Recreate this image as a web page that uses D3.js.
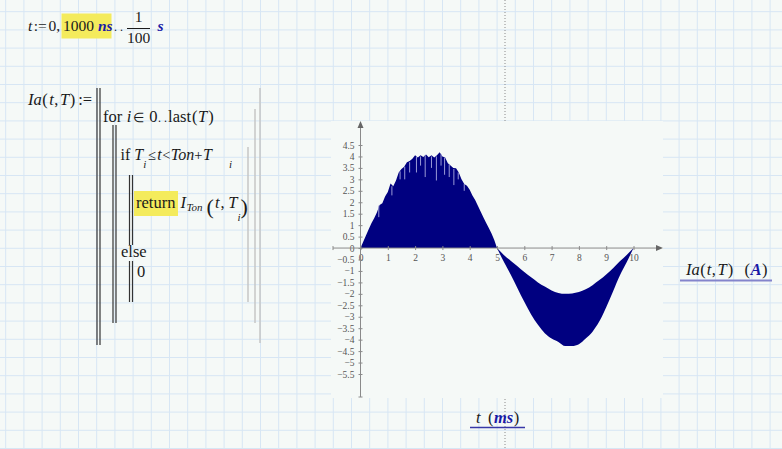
<!DOCTYPE html>
<html>
<head>
<meta charset="utf-8">
<script src="https://cdn.jsdelivr.net/npm/d3@7"></script>
<style>
  body { margin: 0; background: #f5f9f7; }
  svg { display: block; }
  text { font-family: "Liberation Serif", "Times New Roman", serif; }
</style>
</head>
<body>
<script>
// positive half (0..5 ms), top of the filled region in A
var posT = [0, 0.1, 0.2, 0.3, 0.4, 0.5, 0.6, 0.7, 0.8, 0.9, 1.0, 1.1, 1.2, 1.3, 1.4, 1.5, 1.6, 1.7, 1.8, 1.9,
            2.0, 2.1, 2.2, 2.3, 2.4, 2.5, 2.6, 2.7, 2.8, 2.9, 3.0, 3.1, 3.2, 3.3, 3.4, 3.5, 3.6, 3.7, 3.8, 3.9,
            4.0, 4.1, 4.2, 4.3, 4.4, 4.5, 4.6, 4.7, 4.8, 4.9, 5.0];
var posTop = [0, 0.27, 0.55, 0.82, 1.08, 1.3, 1.55, 1.88, 1.96, 2.25, 2.45, 2.82, 2.7, 2.95, 3.3, 3.45, 3.55, 3.75, 3.8, 3.9,
              4.05, 3.95, 4.05, 3.98, 4.08, 3.97, 4.05, 3.95, 4.05, 4.18, 4.0, 3.95, 3.7, 3.6, 3.5, 3.48, 3.3, 3.0, 2.8, 2.72,
              2.55, 2.3, 2.1, 1.85, 1.6, 1.35, 1.1, 0.88, 0.64, 0.35, 0];

// light streaks inside the positive half
var streakT      = [0.67, 1.15, 1.45, 1.62, 1.8, 2.05, 2.2, 2.37, 2.6, 2.78, 2.95, 3.08, 3.25, 3.42, 3.58, 3.8];
var streakTop    = [1.85, 2.7, 3.35, 3.55, 3.75, 4.0, 4.0, 4.05, 4.0, 4.0, 4.1, 3.95, 3.65, 3.45, 3.3, 2.8];
var streakBottom = [1.35, 2.3, 3.0, 3.0, 3.3, 3.3, 3.6, 3.1, 3.5, 2.95, 3.6, 3.2, 3.1, 2.75, 3.0, 2.5];

// negative half (5..10 ms), band between inner and outer envelope in A
var negT     = [5, 5.25, 5.5, 5.75, 6, 6.25, 6.5, 6.75, 7, 7.25, 7.5, 7.75, 8, 8.25, 8.5, 8.75, 9, 9.25, 9.5, 9.75, 10];
var negOuter = [0, -0.6, -1.15, -1.75, -2.35, -2.9, -3.35, -3.72, -3.95, -4.1, -4.28, -4.28, -4.2, -3.95, -3.65, -3.2, -2.58, -1.9, -1.2, -0.62, 0];
var negInner = [0, -0.3, -0.55, -0.8, -1.05, -1.28, -1.5, -1.68, -1.85, -1.96, -2.0, -1.98, -1.92, -1.8, -1.62, -1.4, -1.15, -0.88, -0.58, -0.3, 0];

var xTicks = [0, 1, 2, 3, 4, 5, 6, 7, 8, 9, 10];
var yTicks = [4.5, 4, 3.5, 3, 2.5, 2, 1.5, 1, 0.5, 0, -0.5, -1, -1.5, -2, -2.5, -3, -3.5, -4, -4.5, -5, -5.5];

var W = 782, H = 449;
var ink = "#1a1a1a", unitBlue = "#1a1aa6", hilite = "#f4eb5c";
var FS = 16.5;

var svg = d3.select("body").append("svg")
    .attr("width", W)
    .attr("height", H);

svg.append("rect").attr("width", W).attr("height", H).attr("fill", "#f5f9f7");

// worksheet grid
var grid = svg.append("g").attr("stroke", "#d7e6f4").attr("stroke-width", 1);
for (var gx = 5.7; gx < W; gx += 18.2) {
  grid.append("line").attr("x1", gx).attr("x2", gx).attr("y1", 0).attr("y2", H);
}
for (var gy = 11.7; gy < H; gy += 18.2) {
  grid.append("line").attr("x1", 0).attr("x2", W).attr("y1", gy).attr("y2", gy);
}

// page break marker
svg.append("line").attr("x1", 505).attr("x2", 505).attr("y1", 0).attr("y2", H)
    .attr("stroke", "#8a8a8a").attr("stroke-dasharray", "1,2");

// one text line made of styled pieces: [string, style, dx, dy, size]
function mline(x, y, parts, size, anchor) {
  var t = svg.append("text")
      .attr("x", x).attr("y", y)
      .style("font-size", (size || FS) + "px")
      .attr("fill", ink);
  if (anchor) t.attr("text-anchor", anchor);
  parts.forEach(function(p) {
    var s = t.append("tspan").text(p[0]);
    if (p[1] == "i") s.style("font-style", "italic");
    if (p[1] == "u") s.style("font-style", "italic").style("font-weight", "bold").attr("fill", unitBlue);
    if (p[2]) s.attr("dx", p[2]);
    if (p[3]) s.attr("dy", p[3]);
    if (p[4]) s.style("font-size", p[4] + "px");
  });
  return t;
}
function vbar(x, y1, y2, col, w) {
  svg.append("line").attr("x1", x).attr("x2", x).attr("y1", y1).attr("y2", y2)
      .attr("stroke", col).attr("stroke-width", w);
}

// t := 0, 1000 ns .. 1/100 s
svg.append("rect").attr("x", 61.5).attr("y", 13.5).attr("width", 50).attr("height", 25).attr("fill", hilite);
mline(28, 31, [["t", "i"], [":=", "n", 1.5], ["0,", "n", 1.5]], 15.5);
mline(63, 31, [["1000", "n"], ["ns", "u", 4]], 15.5);
mline(114, 31, [[". .", "n"]], 12);
mline(138.5, 22, [["1", "n"]], 15.5, "middle");
mline(138.5, 43, [["100", "n"]], 15.5, "middle");
svg.append("line").attr("x1", 127).attr("x2", 150).attr("y1", 28.5).attr("y2", 28.5).attr("stroke", ink);
mline(157.5, 31, [["s", "u"]], 15.5);

// Ia(t,T) := program
mline(28, 105, [["Ia", "i"], ["(", "n", 0.5], ["t", "i", 1.5], [",", "n", 0.5], ["T", "i", 1.5], [")", "n", 0.5], [":=", "n", 3]]);

vbar(97, 88, 345, "#333", 1.2);
vbar(100, 88, 345, "#333", 1.2);
vbar(260, 88, 343, "#c6c6c6", 1.5);

mline(103, 122, [["for", "n"], ["i", "i", 4.5], ["\u2208", "n", 2, 0, 13], ["0", "n", 5], [". .", "n", 0.5, 0, 12], ["last", "n", 1], ["(", "n", 1], ["T", "i", 0.5], [")", "n", 1]]);

vbar(113, 125, 323, "#333", 1.2);
vbar(116, 125, 323, "#333", 1.2);
vbar(255, 109, 323, "#c6c6c6", 1.5);

mline(120.5, 160, [["if", "n"], ["T", "i", 4], ["i", "i", 0, 8, 11], ["\u2264", "n", 2, -8, 14.5], ["t", "i", 1],
                   ["<", "n", 0.5, 0, 14.5], ["Ton", "i", 0.5], ["+", "n", 0, 0, 14.5], ["T", "i", 0.5]], 16);
mline(229, 168, [["i", "i"]], 11);

vbar(248, 147, 302, "#c6c6c6", 1.5);
vbar(129.5, 175, 245, "#333", 1.2);
vbar(132.5, 175, 245, "#333", 1.2);
vbar(129.5, 261, 302, "#333", 1.2);
vbar(132.5, 261, 302, "#333", 1.2);

svg.append("rect").attr("x", 134).attr("y", 191).attr("width", 44).attr("height", 25).attr("fill", hilite);
mline(136, 208, [["return", "n"]]);
mline(180.5, 208, [["I", "i"], ["Ton", "i", 0.5, 3, 11]]);
mline(206.5, 214, [["(", "n"]], 22);
mline(215, 208, [["t", "i"], [",", "n", 1], ["T", "i", 3.5], ["i", "i", 0, 13, 11]]);
mline(240.5, 214, [[")", "n"]], 22);

mline(121, 257, [["else", "n"]]);
mline(137, 277, [["0", "n"]]);

// plot region
var plot = svg.append("g");
plot.append("rect").attr("x", 331).attr("y", 121).attr("width", 332).attr("height", 277).attr("fill", "#f5f9f7");

var x = d3.scaleLinear().domain([0, 10]).range([360.5, 633.5]);
var y = d3.scaleLinear().domain([-5.5, 4.5]).range([374, 145]);

var posData = posT.map(function(t, i) { return {t: t, v: posTop[i]}; });
var negData = negT.map(function(t, i) { return {t: t, lo: negOuter[i], hi: negInner[i]}; });

var fill = "#000080";

plot.append("path")
    .datum(posData)
    .attr("fill", fill)
    .attr("d", d3.area()
        .x(function(d) { return x(d.t); })
        .y0(y(0))
        .y1(function(d) { return y(d.v); }));

plot.selectAll(".streak")
    .data(streakT)
  .enter().append("line")
    .attr("class", "streak")
    .attr("x1", function(d) { return x(d); })
    .attr("x2", function(d) { return x(d); })
    .attr("y1", function(d, i) { return y(streakTop[i]); })
    .attr("y2", function(d, i) { return y(streakBottom[i]); })
    .attr("stroke", "#9a9ad6")
    .attr("stroke-width", 1);

plot.append("path")
    .datum(negData)
    .attr("fill", fill)
    .attr("d", d3.area()
        .x(function(d) { return x(d.t); })
        .y0(function(d) { return y(d.hi); })
        .y1(function(d) { return y(d.lo); })
        .curve(d3.curveMonotoneX));

// axes
var axCol = "#8a8a8a";
var fmt = function(d) { return d3.format("")(d); };

var gyAx = plot.append("g")
    .attr("transform", "translate(" + x(0) + ",0)")
    .call(d3.axisLeft(y).tickValues(yTicks).tickSizeInner(2).tickSizeOuter(0).tickPadding(4).tickFormat(fmt));
gyAx.select(".domain").remove();
gyAx.selectAll(".tick line").attr("x1", 2).attr("stroke", axCol);
gyAx.selectAll(".tick text").attr("fill", "#555").style("font-size", "9.5px")
    .style("font-family", "'Liberation Serif', serif");

var gxAx = plot.append("g")
    .attr("transform", "translate(0," + y(0) + ")")
    .call(d3.axisBottom(x).tickValues(xTicks).tickSizeInner(2).tickSizeOuter(0).tickPadding(4).tickFormat(fmt));
gxAx.select(".domain").remove();
gxAx.selectAll(".tick line").attr("y1", -2).attr("stroke", axCol);
gxAx.selectAll(".tick text").attr("fill", "#555").style("font-size", "9.5px")
    .style("font-family", "'Liberation Serif', serif");

plot.append("line").attr("x1", x(0)).attr("x2", x(0)).attr("y1", 124).attr("y2", 397).attr("stroke", axCol);
plot.append("line").attr("x1", 333).attr("x2", 660).attr("y1", y(0)).attr("y2", y(0)).attr("stroke", axCol);
plot.append("line").attr("x1", 333).attr("x2", 333).attr("y1", y(0) - 2).attr("y2", y(0) + 2).attr("stroke", axCol);
plot.append("line").attr("x1", x(0) - 2).attr("x2", x(0) + 2).attr("y1", 397).attr("y2", 397).attr("stroke", axCol);
plot.append("path")
    .attr("d", "M" + x(0) + ",121L" + (x(0) - 3) + ",128L" + (x(0) + 3) + ",128Z")
    .attr("fill", "#666");
plot.append("path")
    .attr("d", "M663," + y(0) + "L656," + (y(0) - 3) + "L656," + (y(0) + 3) + "Z")
    .attr("fill", "#666");

// y label
mline(686, 275, [["Ia", "i"], ["(", "n", 0.5], ["t", "i", 1], [",", "n", 0.5], ["T", "i", 1.5], [")", "n", 1]]);
mline(744.5, 275, [["(", "n"], ["A", "u", 0.5], [")", "n", 0.5]]);
svg.append("line").attr("x1", 680).attr("x2", 772).attr("y1", 280.5).attr("y2", 280.5)
    .attr("stroke", "#8484cc").attr("stroke-width", 2);

// x label
mline(476, 423, [["t", "i"]]);
mline(488, 423, [["(", "n"], ["ms", "u", 0.5], [")", "n", 0.5]]);
svg.append("line").attr("x1", 470).attr("x2", 525).attr("y1", 427.5).attr("y2", 427.5)
    .attr("stroke", "#3838a8").attr("stroke-width", 1.5);
</script>
</body>
</html>
